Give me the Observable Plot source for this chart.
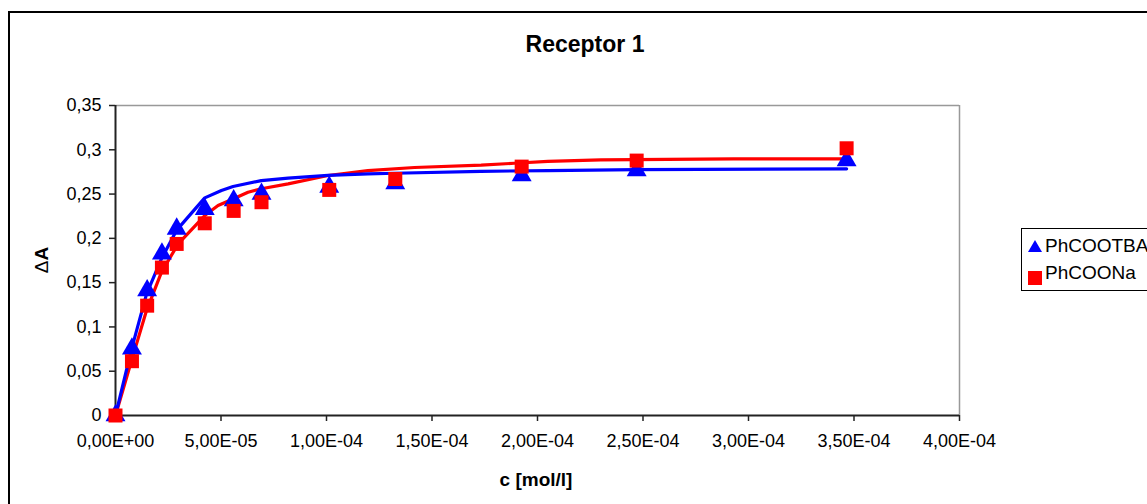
<!DOCTYPE html>
<html><head><meta charset="utf-8">
<script src="https://cdn.jsdelivr.net/npm/d3@7"></script>
<script src="https://cdn.jsdelivr.net/npm/@observablehq/plot@0.6"></script>
<style>
body{margin:0;background:#fff;font-family:"Liberation Sans",Arial,sans-serif;}
#wrap{position:relative;width:1147px;height:504px;overflow:hidden;background:#fff;}
#frame{position:absolute;left:8px;top:11px;width:1200px;height:600px;border:2px solid #000;box-sizing:border-box;}
#chart{position:absolute;left:0;top:0;}
#title{position:absolute;left:585px;top:44px;transform:translate(-50%,-50%);font-weight:bold;font-size:23px;white-space:nowrap;}
#xlabel{position:absolute;left:536px;top:480px;transform:translate(-50%,-50%);font-weight:bold;font-size:19px;white-space:nowrap;}
#ylabel{position:absolute;left:42px;top:260px;transform:translate(-50%,-50%) rotate(-90deg);font-size:19px;white-space:nowrap;}
#legend{position:absolute;left:1021px;top:228px;width:200px;height:63px;border:1px solid #000;box-sizing:border-box;background:#fff;}
.li{position:absolute;left:0;font-size:19px;white-space:nowrap;}
.li svg{position:absolute;left:6px;}
.li span{position:absolute;left:23px;}
</style>
</head><body>
<div id="wrap">
  <div id="frame"></div>
  <div id="chart"></div>
  <div id="title">Receptor 1</div>
  <div id="xlabel">c [mol/l]</div>
  <div id="ylabel"><span style="font-weight:normal">Δ</span><b>A</b></div>
  <div id="legend">
    <div class="li" style="top:0px"><svg width="16" height="16" style="top:11px"><polygon points="7,0 14,12 0,12" fill="#0000ff"/></svg><span style="top:6px">PhCOOTBA</span></div>
    <div class="li" style="top:0px"><svg width="16" height="16" style="top:42px"><rect x="0" y="0" width="14" height="14" fill="#ff0000"/></svg><span style="top:33px">PhCOONa</span></div>
  </div>
</div>
<script>
// ---- data ----
const seriesNames = ["PhCOOTBA", "PhCOONa"];
const conc = [0, 7.8e-6, 15e-6, 22e-6, 29e-6, 42.3e-6, 56e-6, 69.2e-6, 101.3e-6, 132.6e-6, 192.5e-6, 247e-6, 346.5e-6];
const dA_TBA = [0, 0.0753, 0.141, 0.1825, 0.2107, 0.233, 0.2427, 0.250, 0.258, 0.262, 0.271, 0.2765, 0.288];
const dA_Na  = [0, 0.0613, 0.124, 0.167, 0.1937, 0.217, 0.231, 0.2408, 0.2547, 0.267, 0.281, 0.2878, 0.3017];

const fitConcTBA = [0, 7.6e-6, 14.7e-6, 21.8e-6, 28.9e-6, 42.3e-6, 50.2e-6, 55.7e-6, 69.1e-6, 81.8e-6, 100.7e-6, 119.6e-6, 132.3e-6, 173e-6, 204.9e-6, 246.7e-6, 346.5e-6];
const fitTBA     = [0, 0.075, 0.137, 0.177, 0.209, 0.2457, 0.254, 0.2585, 0.2652, 0.268, 0.271, 0.2727, 0.2735, 0.2757, 0.2765, 0.2777, 0.2785];
const fitConcNa  = [0, 7.6e-6, 14.7e-6, 21.8e-6, 29.7e-6, 42.3e-6, 48.6e-6, 55.7e-6, 62.8e-6, 69.1e-6, 81.8e-6, 100.7e-6, 119.6e-6, 141.7e-6, 173.3e-6, 189e-6, 204.9e-6, 230e-6, 293e-6, 346.5e-6];
const fitNa      = [0, 0.062, 0.1185, 0.1618, 0.1938, 0.2257, 0.237, 0.2445, 0.252, 0.256, 0.2615, 0.271, 0.2765, 0.280, 0.2826, 0.2848, 0.287, 0.2886, 0.2897, 0.2897];

const xTicks = [0, 5e-5, 1e-4, 1.5e-4, 2e-4, 2.5e-4, 3e-4, 3.5e-4, 4e-4];
const yTicks = [0, 0.05, 0.1, 0.15, 0.2, 0.25, 0.3, 0.35];

// ---- build tables ----
const ptsTBA = conc.map((c, i) => ({c, v: dA_TBA[i]}));
const ptsNa = conc.map((c, i) => ({c, v: dA_Na[i]}));
const lineTBA = fitConcTBA.map((c, i) => ({c, v: fitTBA[i]}));
const lineNa = fitConcNa.map((c, i) => ({c, v: fitNa[i]}));

const fmtX = v => {
  if (v === 0) return "0,00E+00";
  const [m, e] = v.toExponential(2).split("e");
  const n = +e;
  return m.replace(".", ",") + "E" + (n < 0 ? "-" : "+") + String(Math.abs(n)).padStart(2, "0");
};
const fmtY = v => String(Math.round(v * 100) / 100).replace(".", ",");

const chart = Plot.plot({
  width: 1147,
  height: 504,
  marginLeft: 115,
  marginRight: 188,
  marginTop: 105,
  marginBottom: 89,
  style: {fontFamily: '"Liberation Sans", Arial, sans-serif', fontSize: "18px", color: "#000", background: "transparent"},
  x: {domain: [0, 4e-4]},
  y: {domain: [0, 0.35]},
  marks: [
    Plot.ruleY([0.35], {stroke: "#999", strokeWidth: 1.5}),
    Plot.ruleX([4e-4], {stroke: "#999", strokeWidth: 1.5}),
    Plot.axisX({ticks: xTicks, tickFormat: fmtX, tickSize: 6, tickPadding: 13, label: null, stroke: "#222", strokeWidth: 1.5, fontSize: 18}),
    Plot.axisY({ticks: yTicks, tickFormat: fmtY, tickSize: 6, tickPadding: 8, label: null, stroke: "#222", strokeWidth: 1.5, fontSize: 18}),
    Plot.ruleX([0], {stroke: "#222", strokeWidth: 2}),
    Plot.ruleY([0], {stroke: "#222", strokeWidth: 2}),
    Plot.line(lineNa, {x: "c", y: "v", stroke: "#ff0000", strokeWidth: 3.2}),
    Plot.line(lineTBA, {x: "c", y: "v", stroke: "#0000ff", strokeWidth: 3.2}),
    Plot.dot(ptsTBA, {x: "c", y: "v", symbol: "triangle", r: 7.4, fill: "#0000ff", stroke: "none"}),
    Plot.dot(ptsNa, {x: "c", y: "v", symbol: "square", r: 7.9, fill: "#ff0000", stroke: "none"})
  ]
});
document.getElementById("chart").appendChild(chart);
</script>
</body></html>
